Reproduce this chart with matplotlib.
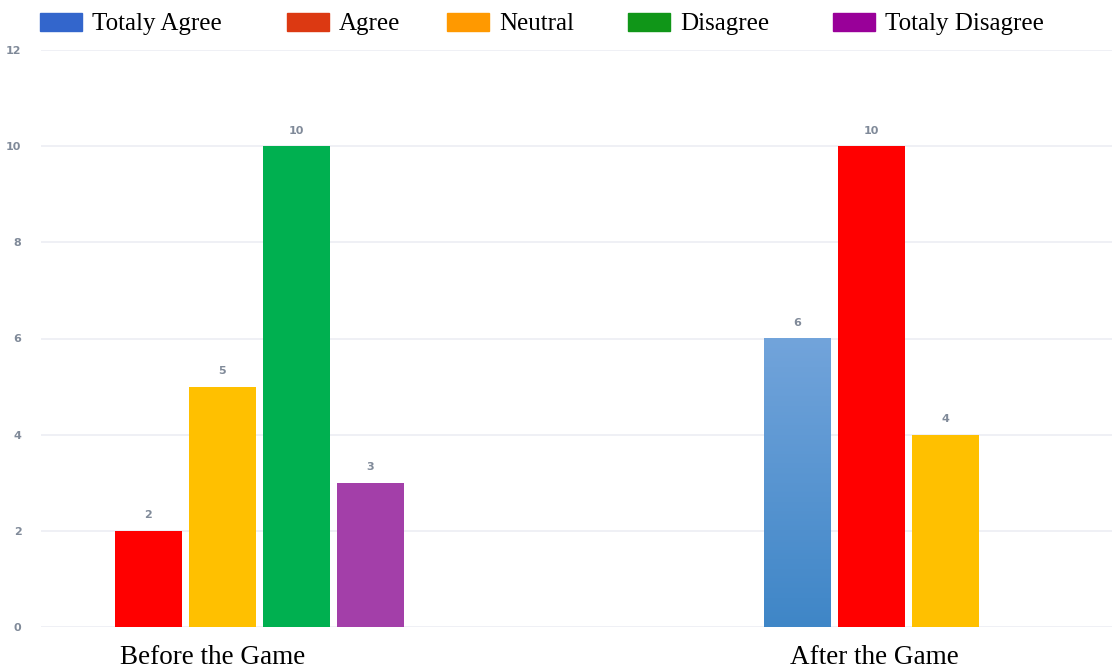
import numpy as np
import matplotlib
matplotlib.use("Agg")
import matplotlib.pyplot as plt
from matplotlib.colors import LinearSegmentedColormap
from matplotlib.patches import Rectangle

groups = ["Before the Game", "After the Game"]
series = ["Totaly Agree", "Agree", "Neutral", "Disagree", "Totaly Disagree"]
totaly_agree = [0, 6]
agree = [2, 10]
neutral = [5, 4]
disagree = [10, 0]
totaly_disagree = [3, 0]
values = [totaly_agree, agree, neutral, disagree, totaly_disagree]

# bar fills vs. the (differently coloured) legend swatches of the original
bar_colors = ["#5b9bd5", "#ff0000", "#ffc000", "#00b050", "#a33fa9"]
legend_colors = ["#3366cc", "#dc3912", "#ff9900", "#109618", "#990099"]

# layout (x in bar-steps, one step ~74 px)
group_centres = [2.95, 11.22]
label_pos = [2.32, 11.26]
bar_w = 0.9
x_max = 14.47

fig = plt.figure(figsize=(11.12, 6.71), dpi=100)
ax = fig.add_axes([41 / 1112, 1 - 627 / 671, 1 - 41 / 1112, (627 - 50) / 671])

tick_grey = "#808a99"
blue_grad = LinearSegmentedColormap.from_list("bg", ["#3f86c7", "#72a4db"])

for gi, centre in enumerate(group_centres):
    idx = [si for si in range(len(series)) if values[si][gi] > 0]
    n = len(idx)
    for k, si in enumerate(idx):
        x = centre + (k - (n - 1) / 2)
        h = values[si][gi]
        if si == 0:
            grad = np.linspace(0, 1, 256).reshape(-1, 1)
            ax.imshow(grad, cmap=blue_grad, origin="lower", aspect="auto",
                      extent=(x - bar_w / 2, x + bar_w / 2, 0, h), zorder=2)
        else:
            ax.bar(x, h, width=bar_w, color=bar_colors[si], zorder=2,
                   edgecolor="none")
        ax.text(x, h + 0.22, str(h), ha="center", va="bottom",
                fontsize=8, color=tick_grey, fontweight="bold")

ax.set_xlim(0, x_max)
ax.set_ylim(0, 12)
ax.set_yticks(range(0, 13, 2))
ax.yaxis.grid(True, color="#eceef3", linewidth=1.2, zorder=0)
ax.set_axisbelow(True)
for s in ax.spines.values():
    s.set_visible(False)
ax.tick_params(axis="y", length=0, pad=14, labelsize=8, labelcolor=tick_grey)
for t in ax.get_yticklabels():
    t.set_fontweight("bold")
ax.set_xticks(label_pos)
ax.set_xticklabels(groups, fontsize=19.5, family="Liberation Serif")
ax.tick_params(axis="x", length=0, pad=13)

# hand-placed legend strip along the top
legend_x = [40, 287, 447, 628, 833]
for x, name, col in zip(legend_x, series, legend_colors):
    fig.patches.append(Rectangle((x / 1112, 1 - 31 / 671), 42 / 1112, 18 / 671,
                                 transform=fig.transFigure, color=col))
    fig.text((x + 52) / 1112, 1 - 24 / 671, name, fontsize=18,
             family="Liberation Serif", va="center", ha="left")

fig.savefig("out.png", dpi=100)
